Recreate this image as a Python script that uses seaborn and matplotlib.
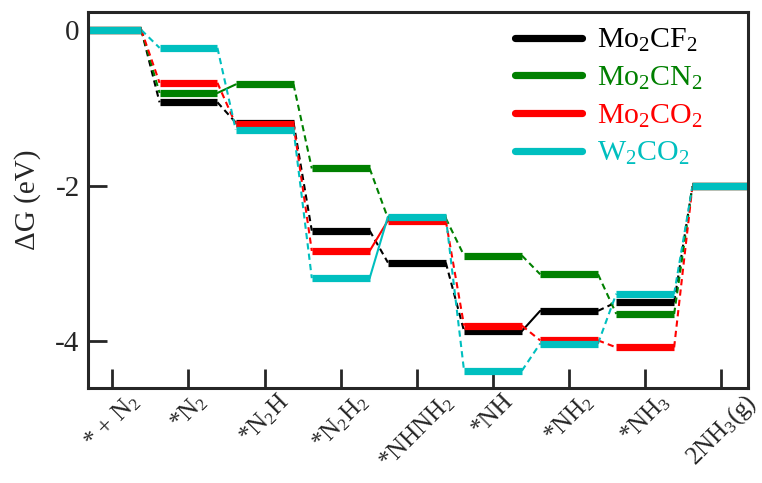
import numpy as np
import pandas as pd
import matplotlib
matplotlib.use("Agg")
import matplotlib.pyplot as plt
from matplotlib.lines import Line2D
import seaborn as sns

steps = ['* + N$_2$', '*N$_2$', '*N$_2$H', '*N$_2$H$_2$', '*NHNH$_2$',
         '*NH', '*NH$_2$', '*NH$_3$', '2NH$_3$(g)']
catalysts = ['Mo$_2$CF$_2$', 'Mo$_2$CN$_2$', 'Mo$_2$CO$_2$', 'W$_2$CO$_2$']
mo2cf2 = [0.0, -0.93, -1.19, -2.58, -2.99, -3.87, -3.61, -3.50, -2.01]
mo2cn2 = [0.0, -0.81, -0.70, -1.78, -2.42, -2.90, -3.14, -3.65, -2.01]
mo2co2 = [0.0, -0.68, -1.21, -2.84, -2.45, -3.80, -3.99, -4.08, -2.01]
w2co2 = [0.0, -0.23, -1.28, -3.19, -2.40, -4.38, -4.03, -3.39, -2.01]
# index of potential-determining step (drawn solid), transition i -> i+1
pds = [5, 1, 3, 3]
colors = ['#000000', '#008000', '#FF0000', '#00BFBF']

sns.set_style('ticks')
plt.rcParams['font.family'] = ['Liberation Serif', 'DejaVu Serif']
plt.rcParams['mathtext.fontset'] = 'custom'
plt.rcParams['mathtext.rm'] = 'Liberation Serif'
plt.rcParams['mathtext.it'] = 'Liberation Serif:italic'
plt.rcParams['axes.unicode_minus'] = False

hw = 0.38
series = [mo2cf2, mo2cn2, mo2co2, w2co2]
lev_rows, con_rows = [], []
for c, vals, p in zip(catalysts, series, pds):
    for i, v in enumerate(vals):
        lev_rows.append(dict(x=i - hw, y=v, cat=c, seg=f'{c}-{i}'))
        lev_rows.append(dict(x=i + hw, y=v, cat=c, seg=f'{c}-{i}'))
        if i < len(vals) - 1:
            kind = 'solid' if i == p else 'dashed'
            con_rows.append(dict(x=i + hw, y=v, cat=c, seg=f'{c}-c{i}', kind=kind))
            con_rows.append(dict(x=i + 1 - hw, y=vals[i + 1], cat=c, seg=f'{c}-c{i}', kind=kind))
levels = pd.DataFrame(lev_rows)
conns = pd.DataFrame(con_rows)
pal = dict(zip(catalysts, colors))

fig = plt.figure(figsize=(7.62, 4.83), dpi=100)
ax = fig.add_axes([0.1155, 0.197, 0.8661, 0.778])

sns.lineplot(data=conns, x='x', y='y', hue='cat', units='seg', estimator=None,
             style='kind', dashes={'solid': '', 'dashed': (3, 2)},
             palette=pal, lw=1.5, sort=False, legend=False, ax=ax)
sns.lineplot(data=levels, x='x', y='y', hue='cat', units='seg', estimator=None,
             palette=pal, lw=5.2, sort=False, legend=False, ax=ax,
             solid_capstyle='butt')

ax.set_xlim(-0.32, 8.35)
ax.set_ylim(-4.6, 0.23)
ax.set_xticks(range(len(steps)))
ax.set_xticklabels(steps, rotation=45, fontsize=18)
ax.set_yticks([0, -2, -4])
ax.set_yticklabels(['0', '-2', '-4'], fontsize=21)
ax.set_xlabel('')
ax.set_ylabel('ΔG (eV)', fontsize=21, labelpad=10)
ax.tick_params(direction='in', length=14, width=2, top=False, right=False)
ax.tick_params(axis='x', pad=1)
ax.tick_params(axis='y', pad=6)
for s in ax.spines.values():
    s.set_linewidth(2.2)
    s.set_visible(True)

handles = [Line2D([0], [0], color=col, lw=5.2) for col in colors]
leg = ax.legend(handles, catalysts, loc='upper left', bbox_to_anchor=(0.647, 0.96),
                frameon=False, fontsize=21.5, handlelength=2.25, handletextpad=0.5,
                labelspacing=0.35, borderpad=0, borderaxespad=0)
for t, col in zip(leg.get_texts(), colors):
    t.set_color(col)

fig.savefig('out.png', dpi=100)
